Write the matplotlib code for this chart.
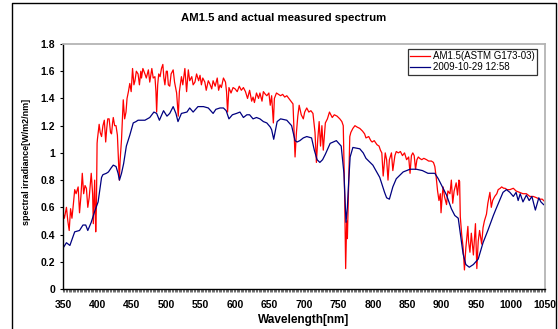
import matplotlib
matplotlib.use('Agg')
import matplotlib.pyplot as plt
from matplotlib.ticker import MultipleLocator, FormatStrFormatter

# AM1.5 reference spectrum
am_wl = [350, 352, 355, 357, 359, 361, 363, 365, 367, 369, 372, 374, 376, 378, 380,
         382, 384, 386, 388, 391, 393, 394, 396, 397.5, 398.5, 399.5, 400, 402.5, 404,
         406, 408, 410, 412, 413.5, 415, 417, 419, 420.5, 422, 423, 425, 427, 429,
         430.5, 431.8, 433, 435, 437.5, 439.5, 441.5, 443, 445, 447, 449, 451, 453,
         454.5, 456.5, 459, 461, 463, 464, 466, 469, 471, 474, 476, 479, 481, 483.5,
         485, 486, 487.5, 489, 491, 493, 495, 496.5, 498, 500, 501.5, 503, 505, 507,
         510, 512, 515, 517.4, 519, 522, 524, 527, 529.5, 532, 534, 537, 539, 541.6,
         544, 547, 549, 551, 553, 556, 558, 561, 563, 566, 568, 571, 574, 576, 578,
         580, 583, 586, 587.5, 589, 591, 594, 597, 600, 603, 606, 609, 612, 615, 618,
         621, 624, 626, 628, 631, 634, 636, 639, 641, 644, 646, 649, 651, 653, 655.5,
         657, 660, 663, 666, 669, 672, 675, 678, 681, 684, 686, 687, 689, 691, 693,
         696, 699, 701, 704, 707, 710, 713, 716, 718, 720, 722, 724, 726, 728, 730,
         731, 734, 737, 741, 744, 748, 752, 755, 757, 759, 760.5, 762, 763, 765,
         766.5, 768, 771, 774, 777, 781, 785, 788, 790, 794, 797, 799, 802, 806, 809,
         811, 813, 815, 818, 820, 822, 824, 827, 829, 832, 834, 837, 840, 843, 846,
         849, 852, 854, 856, 858, 860, 862, 864, 866, 868, 871, 874, 878, 881, 885,
         888, 890, 892, 894, 896, 898, 899, 901, 902, 904, 907, 909, 912, 914, 916,
         918, 921, 923, 925, 926, 927, 929, 931, 933, 935, 938, 939, 941, 943, 945,
         946, 948, 949, 951, 953, 955, 958, 960, 962, 965, 967, 970, 972, 974, 977,
         980, 982, 985, 987, 990, 992, 995, 999, 1004, 1008, 1013, 1018, 1023, 1028,
         1033, 1038, 1042, 1046, 1050]
am_val = [0.56, 0.52, 0.60, 0.50, 0.43, 0.59, 0.52, 0.62, 0.73, 0.70, 0.75, 0.56, 0.68,
          0.85, 0.70, 0.76, 0.74, 0.60, 0.67, 0.85, 0.70, 0.48, 0.80, 0.42, 0.60, 1.07,
          1.10, 1.21, 1.15, 1.12, 1.20, 1.24, 1.08, 1.18, 1.25, 1.25, 1.15, 1.14, 1.22,
          1.26, 1.20, 1.20, 1.13, 0.95, 0.80, 0.95, 1.10, 1.39, 1.25, 1.30, 1.40, 1.45,
          1.51, 1.45, 1.62, 1.50, 1.53, 1.60, 1.58, 1.50, 1.60, 1.55, 1.62, 1.58, 1.55,
          1.61, 1.52, 1.62, 1.55, 1.56, 1.45, 1.30, 1.50, 1.58, 1.56, 1.62, 1.65, 1.55,
          1.50, 1.60, 1.60, 1.50, 1.49, 1.58, 1.61, 1.52, 1.44, 1.27, 1.45, 1.56, 1.50,
          1.62, 1.45, 1.61, 1.53, 1.56, 1.50, 1.52, 1.58, 1.53, 1.57, 1.50, 1.55, 1.52,
          1.46, 1.53, 1.51, 1.47, 1.53, 1.49, 1.55, 1.46, 1.50, 1.48, 1.55, 1.52, 1.45,
          1.30, 1.48, 1.44, 1.48, 1.47, 1.45, 1.49, 1.46, 1.48, 1.45, 1.40, 1.46, 1.38,
          1.41, 1.37, 1.44, 1.40, 1.44, 1.38, 1.45, 1.43, 1.42, 1.44, 1.35, 1.42, 1.22,
          1.40, 1.44, 1.43, 1.42, 1.43, 1.41, 1.42, 1.40, 1.38, 1.36, 1.10, 0.97, 1.15,
          1.27, 1.35, 1.28, 1.25, 1.30, 1.33, 1.30, 1.31, 1.29, 1.15, 0.93, 1.10, 1.23,
          1.05, 1.20, 1.02, 1.15, 1.22, 1.25, 1.30, 1.26, 1.28, 1.27, 1.25, 1.23, 1.20,
          0.70, 0.15, 0.50, 0.37, 0.80, 1.12, 1.15, 1.18, 1.20, 1.19, 1.18, 1.16, 1.14,
          1.11, 1.12, 1.09, 1.08, 1.09, 1.06, 1.05, 1.02, 1.00, 0.83, 1.00, 0.95, 0.80,
          0.95, 1.00, 0.87, 0.98, 1.01, 1.00, 1.01, 0.98, 1.00, 0.95, 0.97, 0.85, 0.98,
          1.00, 0.98, 0.88, 0.95, 0.97, 0.96, 0.95, 0.96, 0.95, 0.94, 0.94, 0.93, 0.90,
          0.82, 0.72, 0.65, 0.70, 0.56, 0.70, 0.75, 0.68, 0.62, 0.72, 0.70, 0.80, 0.63,
          0.72, 0.78, 0.69, 0.80, 0.79, 0.53, 0.40, 0.31, 0.14, 0.30, 0.46, 0.35, 0.27,
          0.41, 0.30, 0.25, 0.40, 0.48, 0.15, 0.35, 0.43, 0.33, 0.45, 0.50, 0.55, 0.63,
          0.71, 0.60, 0.65, 0.68, 0.70, 0.73, 0.74, 0.75, 0.74, 0.74, 0.73, 0.73, 0.74,
          0.72, 0.71, 0.70, 0.70, 0.68, 0.68, 0.67, 0.66, 0.66, 0.64]

# measured spectrum 2009-10-29 12:58
ms_wl = [350, 355, 360, 367, 374, 379, 383, 386, 391, 396, 401, 404, 406, 408, 413,
         416, 420, 423, 427, 430, 432, 435, 438, 442, 447, 452, 456, 459, 465, 469,
         476, 482, 486, 490, 496, 501, 505, 510, 514, 517, 522, 530, 534, 539, 546,
         554, 561, 568, 572, 578, 583, 587, 591, 596, 602, 607, 612, 617, 621, 626,
         631, 636, 641, 646, 651, 653, 656, 659, 661, 666, 675, 682, 687, 690, 694,
         699, 704, 711, 715, 719, 723, 727, 731, 738, 747, 754, 758, 761, 763, 765,
         767, 771, 781, 786, 790, 800, 810, 815, 817, 820, 824, 829, 834, 844, 854,
         863, 872, 880, 890, 895, 900, 907, 914, 919, 924, 927, 931, 935, 940, 946,
         953, 960, 967, 975, 979, 984, 989, 994, 999, 1004, 1008, 1011, 1014, 1018,
         1023, 1027, 1031, 1036, 1041, 1044, 1048]
ms_val = [0.30, 0.34, 0.32, 0.42, 0.43, 0.47, 0.47, 0.43, 0.49, 0.57, 0.64, 0.75, 0.82,
          0.84, 0.85, 0.86, 0.89, 0.91, 0.90, 0.85, 0.80, 0.85, 0.92, 1.05, 1.13, 1.22,
          1.23, 1.24, 1.24, 1.24, 1.26, 1.30, 1.29, 1.24, 1.31, 1.27, 1.29, 1.34, 1.29,
          1.23, 1.29, 1.30, 1.33, 1.30, 1.34, 1.34, 1.33, 1.29, 1.32, 1.33, 1.33, 1.31,
          1.25, 1.28, 1.29, 1.30, 1.26, 1.28, 1.28, 1.25, 1.26, 1.25, 1.23, 1.22, 1.19,
          1.17, 1.10, 1.18, 1.23, 1.25, 1.24, 1.20, 1.09, 1.08, 1.09, 1.11, 1.12, 1.11,
          1.02, 0.95, 0.93, 0.95, 0.99, 1.07, 1.09, 1.05, 0.85, 0.49, 0.60, 0.80, 0.97,
          1.04, 1.03, 1.00, 0.96, 0.91, 0.82, 0.74, 0.71, 0.67, 0.66, 0.75, 0.81, 0.86,
          0.88, 0.88, 0.87, 0.85, 0.85, 0.81, 0.76, 0.69, 0.59, 0.54, 0.52, 0.41, 0.26,
          0.18, 0.16, 0.18, 0.22, 0.34, 0.43, 0.54, 0.59, 0.65, 0.71, 0.73, 0.71, 0.68,
          0.71, 0.65, 0.70, 0.64, 0.69, 0.65, 0.68, 0.58, 0.67, 0.64, 0.62]

labels = ['AM1.5(ASTM G173-03)', '2009-10-29 12:58']

plt.rcParams['font.family'] = ['Liberation Sans', 'DejaVu Sans']

fig = plt.figure(figsize=(5.58, 3.29), dpi=100)
ax = fig.add_axes([63/558., 40/329., 482/558., 245/329.])

ax.plot(am_wl, am_val, color='#ff0000', lw=0.9, label=labels[0])
ax.plot(ms_wl, ms_val, color='#000080', lw=0.9, label=labels[1])

ax.set_xlim(350, 1050)
ax.set_ylim(0, 1.8)
ax.xaxis.set_major_locator(MultipleLocator(50))
ax.xaxis.set_minor_locator(MultipleLocator(2))
ax.yaxis.set_major_locator(MultipleLocator(0.2))
ax.yaxis.set_major_formatter(FormatStrFormatter('%g'))

for s in ['top', 'right']:
    ax.spines[s].set_color('#b4b4b4')
    ax.spines[s].set_linewidth(1.3)
for s in ['left', 'bottom']:
    ax.spines[s].set_color('black')
    ax.spines[s].set_linewidth(1.0)

ax.tick_params(axis='y', direction='out', length=2.2, width=0.8, pad=3.5,
               labelsize=7.5, right=False)
ax.tick_params(axis='x', which='both', direction='out', length=2.2, width=0.5,
               pad=5.5, labelsize=7.5, top=False, colors='#333333', labelcolor='black')
for lab in ax.get_xticklabels() + ax.get_yticklabels():
    lab.set_fontweight('bold')

ax.set_xlabel('Wavelength[nm]', fontsize=8.5, fontweight='bold')
ax.xaxis.set_label_coords(0.5, -0.1)
ax.set_ylabel('spectral irradiance[W/m2/nm]', fontsize=6.5, fontweight='bold')
ax.yaxis.set_label_coords(-0.066, 0.52)

fig.text(0.509, 0.945, 'AM1.5 and actual measured spectrum', fontsize=8.2,
         fontweight='bold', ha='center', va='center')

leg = ax.legend(loc='upper right', bbox_to_anchor=(0.983, 0.980), borderaxespad=0,
                fontsize=7, frameon=True, fancybox=False, handlelength=2.0,
                handletextpad=0.3, borderpad=0.25, labelspacing=0.1)
leg.get_frame().set_edgecolor('black')
leg.get_frame().set_linewidth(0.9)

# outer chart frame
x0, x1, yt = 12/558., 556/558., 1 - 3/329.
fig.add_artist(plt.Line2D([x0, x0, x1, x1], [0, yt, yt, 0], color='black', lw=1.0,
                          transform=fig.transFigure))

fig.savefig('out.png', dpi=100)
